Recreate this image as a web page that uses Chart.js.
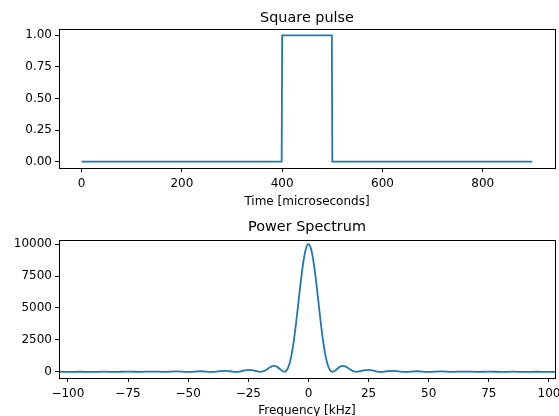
<!DOCTYPE html>
<html>
<head>
<meta charset="utf-8">
<title>Square pulse and power spectrum</title>
<script src="https://cdn.jsdelivr.net/npm/chart.js@4.4.1/dist/chart.umd.min.js"></script>
<style>
  html, body { margin: 0; padding: 0; background: #fff; }
  canvas { display: block; }
</style>
</head>
<body>
<canvas id="pulse" width="559" height="208"></canvas>
<canvas id="spectrum" width="559" height="208"></canvas>
<script>
// square pulse, time in microseconds
const pulseTimes = [0, 399, 400, 499, 500, 899];
const pulseValues = [0, 0, 1, 1, 0, 0];

// power spectrum
const freqKHz = [
  -110, -105, -100, -95, -90, -85, -80, -75, -70, -65, -60, -55, -50, -45, -40,
  -37.5, -35, -32.5, -30, -27.5, -25, -22.5, -20,
  -19, -18, -17, -16, -15, -14, -13, -12, -11, -10,
  -9, -8, -7, -6, -5, -4, -3, -2, -1, 0,
  1, 2, 3, 4, 5, 6, 7, 8, 9,
  10, 11, 12, 13, 14, 15, 16, 17, 18, 19,
  20, 22.5, 25, 27.5, 30, 32.5, 35, 37.5,
  40, 45, 50, 55, 60, 65, 70, 75, 80, 85, 90, 95, 100, 105, 110
];
const power = [
  0, 9, 0, 11, 0, 14, 0, 18, 0, 24, 0, 33, 0, 50, 0,
  36, 83, 48, 0, 67, 160, 100, 0,
  30, 110, 230, 360, 450, 470, 390, 240, 80, 0,
  120, 550, 1350, 2550, 4050, 5730, 7370, 8750, 9680, 10000,
  9680, 8750, 7370, 5730, 4050, 2550, 1350, 550, 120,
  0, 80, 240, 390, 470, 450, 360, 230, 110, 30,
  0, 100, 160, 67, 0, 48, 83, 36,
  0, 50, 0, 33, 0, 24, 0, 18, 0, 14, 0, 11, 0, 9, 0
];

const pulseXTicks = [0, 200, 400, 600, 800];
const pulseYTicks = [0, 0.25, 0.5, 0.75, 1];
const spectrumXTicks = [-100, -75, -50, -25, 0, 25, 50, 75, 100];
const spectrumYTicks = [0, 2500, 5000, 7500, 10000];

Chart.defaults.font.family = "'DejaVu Sans', sans-serif";
Chart.defaults.font.size = 12;
Chart.defaults.color = '#000';

const minus = v => String(v).replace('-', '\u2212');

// matplotlib-like box around the axes
const frame = {
  id: 'frame',
  afterDraw(chart) {
    const a = chart.chartArea, ctx = chart.ctx;
    ctx.save();
    ctx.strokeStyle = '#000';
    ctx.lineWidth = 1;
    ctx.strokeRect(Math.round(a.left) + 0.5, Math.round(a.top) + 0.5,
      Math.round(a.right - a.left), Math.round(a.bottom - a.top));
    ctx.restore();
  }
};

function makeChart(id, opts) {
  const pts = opts.xs.map((x, i) => ({ x: x, y: opts.ys[i] }));
  return new Chart(document.getElementById(id), {
    type: 'line',
    data: {
      datasets: [{
        data: pts,
        borderColor: '#1f77b4',
        borderWidth: 1.8,
        pointRadius: 0,
        fill: false,
        tension: 0,
        cubicInterpolationMode: opts.smooth ? 'monotone' : 'default'
      }]
    },
    options: {
      responsive: false,
      animation: false,
      layout: { padding: { left: 0, right: 4, top: 0, bottom: 0 } },
      plugins: {
        legend: { display: false },
        tooltip: { enabled: false },
        title: {
          display: true,
          text: opts.title,
          fullSize: false,
          font: { size: 14.4, weight: 'normal', lineHeight: 1.2 },
          color: '#000',
          padding: { top: opts.titleTop, bottom: opts.areaTop - opts.titleTop - 17.28 }
        }
      },
      scales: {
        x: {
          type: 'linear',
          min: opts.xMin,
          max: opts.xMax,
          afterBuildTicks: s => { s.ticks = opts.xTicks.map(v => ({ value: v })); },
          ticks: { maxRotation: 0, autoSkip: false, padding: 5, callback: v => minus(v) },
          grid: { drawOnChartArea: false, drawTicks: true, tickLength: 4, color: '#000' },
          border: { display: true, color: '#000' },
          title: {
            display: true, text: opts.xLabel,
            font: { size: 12, lineHeight: 1 },
            padding: { top: 0, bottom: opts.labelPad }
          },
          afterFit: s => { s.height = 208 - opts.areaBottom; s.paddingLeft = 0; s.paddingRight = 0; }
        },
        y: {
          type: 'linear',
          min: opts.yMin,
          max: opts.yMax,
          afterBuildTicks: s => { s.ticks = opts.yTicks.map(v => ({ value: v })); },
          ticks: { padding: 3, callback: opts.yFmt },
          grid: { drawOnChartArea: false, drawTicks: true, tickLength: 4, color: '#000' },
          border: { display: true, color: '#000' },
          afterFit: s => { s.width = 59; s.paddingTop = 0; s.paddingBottom = 0; }
        }
      }
    },
    plugins: [frame]
  });
}

makeChart('pulse', {
  xs: pulseTimes, ys: pulseValues, smooth: false,
  title: 'Square pulse', titleTop: 9.4, areaTop: 29, areaBottom: 168,
  xMin: -45, xMax: 944, xTicks: pulseXTicks, xLabel: 'Time [microseconds]', labelPad: 0,
  yMin: -0.05, yMax: 1.05, yTicks: pulseYTicks, yFmt: v => v.toFixed(2)
});

makeChart('spectrum', {
  xs: freqKHz, ys: power, smooth: true,
  title: 'Power Spectrum', titleTop: 10.4, areaTop: 32, areaBottom: 170,
  xMin: -103.7, xMax: 102.5, xTicks: spectrumXTicks, xLabel: 'Frequency [kHz]', labelPad: -1,
  yMin: -480, yMax: 10320, yTicks: spectrumYTicks, yFmt: v => String(v)
});
</script>
</body>
</html>
